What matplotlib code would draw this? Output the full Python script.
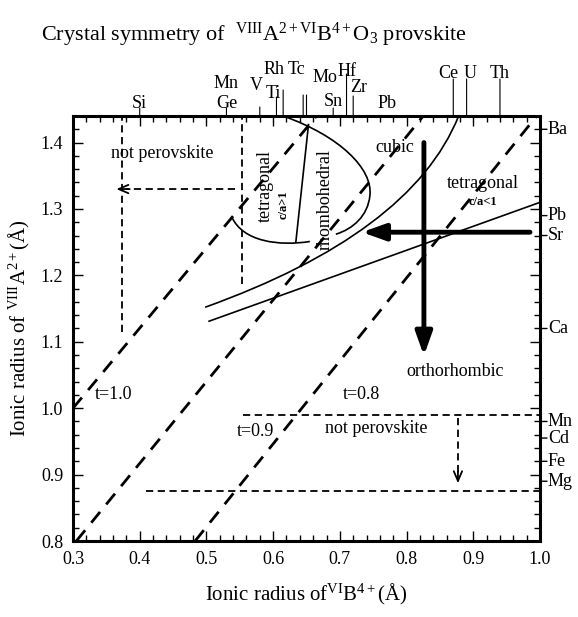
import matplotlib
matplotlib.use("Agg")
import matplotlib.pyplot as plt
from matplotlib.path import Path
from matplotlib.patches import PathPatch
from matplotlib.ticker import MultipleLocator

plt.rcParams['font.family'] = ['Liberation Serif', 'DejaVu Serif']
plt.rcParams['mathtext.fontset'] = 'custom'
plt.rcParams['mathtext.rm'] = 'Liberation Serif'
plt.rcParams['mathtext.it'] = 'Liberation Serif:italic'
plt.rcParams['mathtext.bf'] = 'Liberation Serif:bold'

# B-site cations (VI-coordinated, 4+) marked on the top axis
b_names = ['Si', 'Ge', 'Mn', 'V', 'Ti', 'Rh', 'Tc', 'Mo', 'Sn', 'Hf', 'Zr', 'Pb', 'Ce', 'U', 'Th']
b_radii = [0.40, 0.53, 0.53, 0.58, 0.605, 0.615, 0.645, 0.65, 0.69, 0.71, 0.72, 0.775, 0.87, 0.89, 0.94]

# A-site cations (VIII-coordinated, 2+) marked on the right axis
a_names = ['Ba', 'Pb', 'Sr', 'Ca', 'Mn', 'Cd', 'Fe', 'Mg']
a_radii = [1.42, 1.29, 1.26, 1.12, 0.98, 0.955, 0.92, 0.89]

# tolerance factor lines (start, end)
t_labels = ['t=1.0', 't=0.9', 't=0.8']
t_start = [(0.30, 1.00), (0.305, 0.80), (0.483, 0.80)]
t_end = [(0.665, 1.44), (0.825, 1.44), (0.995, 1.44)]

# phase boundaries
ortho_line = [(0.504, 1.131), (1.0, 1.31)]
cubic_curve = [(0.498, 1.152), (0.70, 1.225), (0.83, 1.32), (0.878, 1.44)]
rhombo_arc_low = [(0.538, 1.288), (0.555, 1.250), (0.61, 1.244), (0.655, 1.251)]
rhombo_arc_high = [(0.615, 1.44), (0.70, 1.41), (0.75, 1.36), (0.745, 1.32),
                   (0.742, 1.29), (0.72, 1.27), (0.694, 1.262)]
tet_rhombo_line = [(0.653, 1.427), (0.634, 1.25)]

# "not perovskite" limits
limit_x = [0.373, 0.554]
limit_x_bottom = [1.115, 1.187]
limit_y = [0.99, 0.875]
limit_y_start = [0.555, 0.41]

fig = plt.figure(figsize=(5.78, 6.17), dpi=100)
ax = fig.add_axes([73 / 578, 76 / 617, 467 / 578, 425 / 617])
ax.set_xlim(0.3, 1.0)
ax.set_ylim(0.8, 1.44)

# tolerance factor lines
for (x0, y0), (x1, y1) in zip(t_start, t_end):
    ax.plot([x0, x1], [y0, y1], color='black', lw=2.0, ls=(0, (5, 3.5)))
ax.text(0.333, 1.02, t_labels[0], fontsize=13, ha='left', va='center')
ax.text(0.545, 0.965, t_labels[1], fontsize=13, ha='left', va='center')
ax.text(0.705, 1.02, t_labels[2], fontsize=13, ha='left', va='center')

# orthorhombic / tetragonal boundary
ax.plot(*zip(*ortho_line), color='black', lw=1.2)

# cubic boundary
ax.add_patch(PathPatch(Path(cubic_curve, [Path.MOVETO] + [Path.CURVE4] * 3),
                       fc='none', ec='black', lw=1.2))

# rhombohedral / tetragonal (c/a>1) field
ax.add_patch(PathPatch(Path(rhombo_arc_low, [Path.MOVETO] + [Path.CURVE4] * 3),
                       fc='none', ec='black', lw=1.2))
ax.add_patch(PathPatch(Path(rhombo_arc_high, [Path.MOVETO] + [Path.CURVE4] * 6),
                       fc='none', ec='black', lw=1.2))
ax.plot(*zip(*tet_rhombo_line), color='black', lw=1.2)

# not perovskite limits (thin dashes)
for x, yb in zip(limit_x, limit_x_bottom):
    ax.plot([x, x], [yb, 1.44], color='black', lw=1.3, ls=(0, (4, 2.5)))
for y, xs in zip(limit_y, limit_y_start):
    ax.plot([xs, 1.0], [y, y], color='black', lw=1.3, ls=(0, (4, 2.5)))

# dashed arrows towards the non-perovskite regions
ax.plot([0.543, 0.38], [1.33, 1.33], color='black', lw=1.3, ls=(0, (4, 2.5)))
ax.annotate('', xy=(0.365, 1.33), xytext=(0.385, 1.33),
            arrowprops=dict(arrowstyle='->,head_length=0.7,head_width=0.3', lw=1.3,
                            shrinkA=0, shrinkB=0))
ax.plot([0.877, 0.877], [0.985, 0.90], color='black', lw=1.3, ls=(0, (4, 2.5)))
ax.annotate('', xy=(0.877, 0.887), xytext=(0.877, 0.905),
            arrowprops=dict(arrowstyle='->,head_length=0.7,head_width=0.3', lw=1.3,
                            shrinkA=0, shrinkB=0))

# thick arrows: increasing distortion
ax.annotate('', xy=(0.733, 1.265), xytext=(0.985, 1.265),
            arrowprops=dict(arrowstyle='-|>,head_length=1.4,head_width=0.5', lw=3.5,
                            color='black', shrinkA=0, shrinkB=0))
ax.annotate('', xy=(0.826, 1.079), xytext=(0.826, 1.40),
            arrowprops=dict(arrowstyle='-|>,head_length=1.4,head_width=0.5', lw=3.5,
                            color='black', shrinkA=0, shrinkB=0))

# field names
ax.text(0.434, 1.384, 'not perovskite', fontsize=13, ha='center', va='center')
ax.text(0.755, 0.969, 'not perovskite', fontsize=13, ha='center', va='center')
ax.text(0.783, 1.392, 'cubic', fontsize=13, ha='center', va='center')
ax.text(0.588, 1.334, 'tetragonal', fontsize=13, rotation=90, ha='center', va='center')
ax.text(0.615, 1.307, 'c/a>1', fontsize=9, fontweight='bold', rotation=90,
        ha='center', va='center')
ax.text(0.678, 1.314, 'rhombohedral', fontsize=13, rotation=90, ha='center', va='center')
ax.text(0.915, 1.338, 'tetragonal', fontsize=13, ha='center', va='center')
ax.text(0.915, 1.311, 'c/a<1', fontsize=9, fontweight='bold', ha='center', va='center')
ax.text(0.873, 1.056, 'orthorhombic', fontsize=13, ha='center', va='center')

# axes, ticks
for sp in ax.spines.values():
    sp.set_linewidth(2.2)
ax.xaxis.set_major_locator(MultipleLocator(0.1))
ax.xaxis.set_minor_locator(MultipleLocator(0.02))
ax.yaxis.set_major_locator(MultipleLocator(0.1))
ax.yaxis.set_minor_locator(MultipleLocator(0.02))
ax.tick_params(which='both', direction='in', top=True, right=True, width=1.0)
ax.tick_params(which='major', length=7, labelsize=13, pad=7)
ax.tick_params(which='minor', length=4)
ax.xaxis.set_major_formatter(plt.FuncFormatter(lambda v, p: f'{v:.1f}'))
ax.yaxis.set_major_formatter(plt.FuncFormatter(lambda v, p: f'{v:.1f}'))

ax.set_xlabel(r'Ionic radius of$^{\rm VI}$B$^{4+}$(Å)', fontsize=15, labelpad=10)
ax.set_ylabel(r'Ionic radius of $^{\rm VIII}$A$^{2+}$(Å)', fontsize=15, labelpad=6)

# top axis element markers: label offset (px), label height (px), line length (px)
b_dx = [0, 0, 0, -4, -3, -9, -7, 18, 0, 0, 5, -3, -5, 4, 0]
b_dy = [13, 13, 32, 31, 23, 46, 46, 38, 15, 44, 28, 12, 43, 43, 43]
b_line = [8, 8, 0, 9, 19, 26, 21, 21, 8, 42, 20, 0, 37, 37, 37]
for name, r, dx, dy, ln in zip(b_names, b_radii, b_dx, b_dy, b_line):
    if ln:
        ax.annotate('', xy=(r, 1), xycoords=('data', 'axes fraction'),
                    xytext=(0, ln), textcoords='offset pixels',
                    arrowprops=dict(arrowstyle='-', lw=0.8, shrinkA=0, shrinkB=0))
    ax.annotate(name, xy=(r, 1), xycoords=('data', 'axes fraction'),
                xytext=(dx, dy), textcoords='offset pixels',
                ha='center', va='center', fontsize=13)

# right axis element markers
for name, r in zip(a_names, a_radii):
    ax.annotate('', xy=(1, r), xycoords=('axes fraction', 'data'),
                xytext=(7, 0), textcoords='offset pixels',
                arrowprops=dict(arrowstyle='-', lw=1.0, shrinkA=0, shrinkB=0))
    ax.annotate(name, xy=(1, r), xycoords=('axes fraction', 'data'),
                xytext=(8, 0), textcoords='offset pixels',
                ha='left', va='center', fontsize=13)

fig.text(0.44, 0.943,
         r'Crystal symmetry of  $^{\rm VIII}$A$^{2+ \rm VI}$B$^{4+}$O$_3$ provskite',
         fontsize=16, ha='center', va='center')

fig.savefig('out.png', dpi=100)
